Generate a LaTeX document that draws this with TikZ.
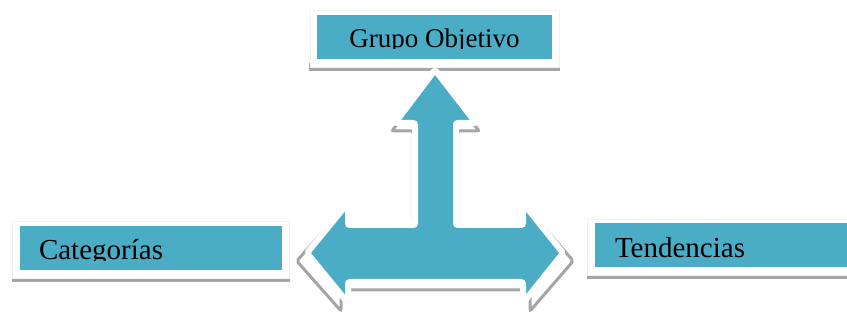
\documentclass[tikz,border=0pt]{standalone}
\usepackage{fontspec}
\setmainfont{Liberation Serif}
\definecolor{accent}{RGB}{75,172,198}
\definecolor{shadowgray}{RGB}{165,165,165}
\tikzset{
  rectbox/.style={rectangle, inner sep=0pt, outer sep=0pt, anchor=north west},
  tealbox/.style={rectbox, fill=accent},
  framebox/.style={rectbox, fill=white, draw=black!5, line width=0.6pt},
  shadowbox/.style={rectbox, fill=shadowgray},
  lbl/.style={inner sep=0pt, outer sep=0pt, font=\fontsize{29}{34}\selectfont, text=black},
  arrowshape/.style={insert path={
    (435,70) -- (476,123) -- (456,123) -- (456,225) -- (523,225) -- (523,203)
    -- (563,253) -- (523,303) -- (523,282) -- (348,282) -- (348,303)
    -- (307,253) -- (348,203) -- (348,225) -- (415,225) -- (415,123)
    -- (395,123) -- cycle}}
}
\begin{document}
\begin{tikzpicture}[x=1pt,y=-1pt]
\useasboundingbox (0,0) rectangle (847,320);

% top box
\node[shadowbox, minimum width=251pt, minimum height=8pt] (gshadow) at (309,63) {};
\node[framebox, minimum width=249pt, minimum height=57pt] (gframe) at (310,10) {};
\node[tealbox, minimum width=235pt, minimum height=44pt] (gbox) at (317,15) {};
\begin{scope}
  \clip (317,15) rectangle (552,48.5);
  \node[lbl, font=\fontsize{27}{32}\selectfont, anchor=base] (gtext) at (434.5,47.5) {Grupo Objetivo};
\end{scope}

% left box
\node[shadowbox, minimum width=278pt, minimum height=8pt] (cshadow) at (12,274) {};
\node[framebox, minimum width=277pt, minimum height=57pt] (cframe) at (12,221) {};
\node[tealbox, minimum width=262pt, minimum height=44pt] (cbox) at (20,226) {};
\begin{scope}
  \clip (20,226) rectangle (282,260.5);
  \node[lbl, anchor=base west] (ctext) at (39,260) {Categorías};
\end{scope}

% right box
\node[shadowbox, minimum width=262pt, minimum height=8pt] (tshadow) at (587,271) {};
\node[framebox, minimum width=262pt, minimum height=56pt] (tframe) at (587,219) {};
\node[tealbox, minimum width=254pt, minimum height=44pt] (tbox) at (595,223) {};
\begin{scope}
  \clip (595,223) rectangle (847,259);
  \node[lbl, anchor=base west] (ttext) at (615,258) {Tendencias};
\end{scope}

% three-way arrow: shadow outline
\begin{scope}[shift={(435,261)}, xscale=1.08, shift={(-435,-253)}]
  \draw[draw=shadowgray, line width=3pt, rounded corners=2pt] [arrowshape];
\end{scope}
% arrow body
\path[fill=accent, draw=white, line width=6pt, rounded corners=2pt] [arrowshape];
\end{tikzpicture}
\end{document}
